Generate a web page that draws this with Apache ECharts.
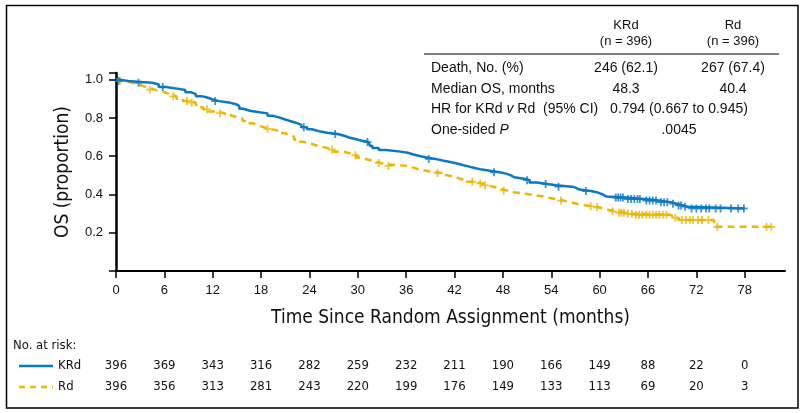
<!DOCTYPE html>
<html>
<head>
<meta charset="utf-8">
<script src="https://cdn.jsdelivr.net/npm/echarts@6/dist/echarts.min.js"></script>
<style>
  html, body { margin: 0; padding: 0; background: #fff; }
  #chart { width: 803px; height: 413px; }
</style>
</head>
<body>
<div id="chart"></div>
<script>
// Kaplan-Meier steps: [months, proportion]
const krdSteps = [
  [0, 1.0], [0.5, 0.993], [1.5, 0.987], [3.5, 0.984], [4.5, 0.975], [5.3, 0.962],
  [6.2, 0.952], [7.8, 0.946], [8.6, 0.935], [9.3, 0.925], [9.9, 0.914], [10.6, 0.907],
  [11.3, 0.897], [12.0, 0.888], [12.8, 0.879], [14.2, 0.872], [14.9, 0.862], [15.3, 0.848],
  [15.8, 0.838], [16.6, 0.830], [17.8, 0.824], [18.8, 0.812], [19.4, 0.803], [20.2, 0.793],
  [20.9, 0.784], [21.6, 0.774], [22.4, 0.764], [23.0, 0.752], [23.7, 0.741], [24.3, 0.731],
  [25.2, 0.723], [26.2, 0.716], [27.5, 0.708], [28.2, 0.698], [28.9, 0.689], [29.8, 0.681],
  [30.5, 0.674], [31.3, 0.667], [31.5, 0.655], [31.8, 0.643], [32.6, 0.632], [33.5, 0.624],
  [35.3, 0.618], [36.2, 0.609], [36.9, 0.600], [37.8, 0.593], [38.6, 0.586], [39.6, 0.578],
  [40.5, 0.571], [41.3, 0.563], [42.2, 0.555], [42.9, 0.547], [43.7, 0.538], [44.5, 0.530],
  [45.4, 0.522], [46.8, 0.516], [47.6, 0.509], [48.4, 0.500], [49.0, 0.490], [49.4, 0.481],
  [50.8, 0.475], [51.3, 0.463], [52.2, 0.455], [53.5, 0.448], [54.6, 0.441], [56.6, 0.436],
  [57.0, 0.426], [57.5, 0.418], [58.9, 0.410], [59.8, 0.400], [60.4, 0.390], [60.8, 0.384],
  [63.2, 0.376], [65.5, 0.368], [67.3, 0.360], [68.8, 0.352], [69.5, 0.343], [70.3, 0.336],
  [70.9, 0.327], [78.0, 0.327]
];
const rdSteps = [
  [0, 1.0], [0.4, 0.995], [1.0, 0.988], [1.6, 0.978], [2.5, 0.968], [3.3, 0.958],
  [4.0, 0.948], [4.8, 0.940], [5.4, 0.932], [6.2, 0.922], [6.8, 0.913], [7.5, 0.900],
  [8.3, 0.889], [9.2, 0.880], [9.9, 0.868], [10.4, 0.856], [10.8, 0.845], [11.5, 0.834],
  [12.4, 0.825], [13.5, 0.814], [14.2, 0.804], [15.0, 0.796], [15.7, 0.784], [16.3, 0.772],
  [17.0, 0.762], [17.5, 0.752], [18.3, 0.743], [19.0, 0.735], [20.0, 0.722], [20.8, 0.712],
  [21.5, 0.702], [22.1, 0.686], [22.7, 0.675], [23.3, 0.665], [24.2, 0.655], [25.0, 0.645],
  [26.0, 0.635], [27.0, 0.623], [28.3, 0.615], [29.0, 0.605], [29.8, 0.593], [30.5, 0.583],
  [31.2, 0.574], [32.0, 0.565], [32.8, 0.557], [33.6, 0.549], [36.3, 0.540], [36.9, 0.530],
  [37.7, 0.520], [39.0, 0.512], [40.4, 0.500], [41.1, 0.494], [41.8, 0.485], [42.5, 0.477],
  [43.1, 0.466], [44.4, 0.458], [45.4, 0.448], [46.1, 0.438], [47.0, 0.430], [47.7, 0.421],
  [48.5, 0.412], [49.3, 0.404], [50.8, 0.397], [51.8, 0.390], [53.0, 0.382], [53.8, 0.375],
  [54.6, 0.368], [55.5, 0.361], [56.3, 0.354], [56.9, 0.346], [57.8, 0.339], [58.9, 0.333],
  [59.8, 0.326], [60.6, 0.319], [61.2, 0.312], [62.2, 0.305], [63.2, 0.299], [64.2, 0.294],
  [68.6, 0.289], [69.0, 0.278], [69.8, 0.266], [74.2, 0.231], [81.6, 0.231]
];

// censoring ticks
const krdCensored = [
  [0.3, 0.993], [2.8, 0.984], [5.8, 0.962], [12.3, 0.888], [23.3, 0.752], [27.2, 0.716],
  [31.2, 0.674], [38.8, 0.586], [46.9, 0.516], [51.0, 0.475], [53.3, 0.455], [54.9, 0.441],
  [58.3, 0.418], [62.0, 0.384], [62.3, 0.384], [62.6, 0.384], [62.9, 0.384], [63.5, 0.376],
  [63.9, 0.376], [64.3, 0.376], [64.7, 0.376], [65.0, 0.376], [65.8, 0.368], [66.2, 0.368],
  [66.6, 0.368], [67.0, 0.368], [67.6, 0.360], [68.0, 0.360], [68.4, 0.360], [69.1, 0.352],
  [69.8, 0.343], [70.1, 0.343], [70.6, 0.336], [71.4, 0.327], [72.0, 0.327], [72.6, 0.327],
  [73.2, 0.327], [73.6, 0.327], [74.4, 0.327], [75.0, 0.327], [76.3, 0.327], [77.2, 0.327],
  [77.9, 0.327]
];
const rdCensored = [
  [0.5, 0.995], [4.2, 0.948], [7.1, 0.913], [8.8, 0.889], [9.4, 0.880], [11.3, 0.845],
  [12.9, 0.825], [18.8, 0.743], [26.8, 0.635], [29.7, 0.605], [32.6, 0.565], [33.8, 0.549],
  [39.9, 0.512], [44.2, 0.466], [45.2, 0.458], [45.8, 0.448], [48.1, 0.421], [55.2, 0.368],
  [58.9, 0.339], [59.7, 0.333], [61.6, 0.312], [62.4, 0.305], [62.7, 0.305], [63.0, 0.305],
  [63.5, 0.299], [64.0, 0.299], [64.5, 0.294], [64.9, 0.294], [65.3, 0.294], [65.8, 0.294],
  [66.2, 0.294], [66.6, 0.294], [67.0, 0.294], [67.4, 0.294], [67.9, 0.294], [68.3, 0.294],
  [69.4, 0.278], [70.2, 0.266], [70.7, 0.266], [71.2, 0.266], [71.6, 0.266], [72.2, 0.266],
  [72.7, 0.266], [73.5, 0.266], [74.6, 0.231], [80.7, 0.231], [81.3, 0.231]
];

// number at risk table
const riskMonths = [0, 6, 12, 18, 24, 30, 36, 42, 48, 54, 60, 66, 72, 78];
const krdAtRisk = [396, 369, 343, 316, 282, 259, 232, 211, 190, 166, 149, 88, 22, 0];
const rdAtRisk = [396, 356, 313, 281, 243, 220, 199, 176, 149, 133, 113, 69, 20, 3];

// summary table (top right)
const tableHead = ['KRd\n(n = 396)', 'Rd\n(n = 396)'];
const tableRows = [
  ['Death, No. (%)', '246 (62.1)', '267 (67.4)'],
  ['Median OS, months', '48.3', '40.4'],
  ['HR for KRd v Rd  (95% CI)', '0.794 (0.667 to 0.945)'],
  ['One-sided P', '.0045']
];

const BLUE = '#0A79C4';
const GOLD = '#EBB700';
const FONT = "'Liberation Sans', Arial, sans-serif";
const NARROW = "'Liberation Sans Narrow', 'DejaVu Sans Condensed', sans-serif";
const PLUS = 'path://M-0.9,-4H0.9V-0.9H4V0.9H0.9V4H-0.9V0.9H-4V-0.9H-0.9Z';

const chart = echarts.init(document.getElementById('chart'), null, { renderer: 'canvas' });

chart.setOption({
  animation: false,
  backgroundColor: '#fff',
  grid: { left: 116, right: 18, top: 73, bottom: 142 },
  xAxis: {
    type: 'value', min: 0, max: 83, interval: 6,
    name: 'Time Since Random Assignment (months)',
    nameLocation: 'middle', nameGap: 38,
    nameTextStyle: { fontFamily: NARROW, fontSize: 19, color: '#111' },
    axisLine: { onZero: false, lineStyle: { color: '#000', width: 2 } },
    axisTick: { length: 7, lineStyle: { color: '#000', width: 1.5 } },
    axisLabel: {
      color: '#111', fontFamily: FONT, fontSize: 13, margin: 13, showMaxLabel: false,
      formatter: v => (v > 80 ? '' : String(v))
    },
    splitLine: { show: false }
  },
  yAxis: {
    type: 'value', min: 0, max: 1.035, interval: 0.2,
    name: 'OS (proportion)',
    nameLocation: 'middle', nameGap: 43, nameRotate: 90,
    nameTextStyle: { fontFamily: NARROW, fontSize: 19, color: '#111' },
    axisLine: { show: true, lineStyle: { color: '#000', width: 2.5 } },
    axisTick: { show: true, length: 7, lineStyle: { color: '#000', width: 1.5 } },
    axisLabel: {
      color: '#111', fontFamily: FONT, fontSize: 13, margin: 13,
      formatter: v => (v === 0 || v > 1.01) ? '' : v.toFixed(1)
    },
    splitLine: { show: false }
  },
  series: [
    {
      name: 'Rd', type: 'line', step: 'end', data: rdSteps, symbol: 'none',
      lineStyle: { color: GOLD, width: 2.5, type: [7, 5] }, z: 2
    },
    {
      name: 'Rd censored', type: 'scatter', data: rdCensored, symbol: PLUS,
      symbolSize: 8, itemStyle: { color: GOLD }, z: 2
    },
    {
      name: 'KRd', type: 'line', step: 'end', data: krdSteps, symbol: 'none',
      lineStyle: { color: BLUE, width: 2.5 }, z: 3
    },
    {
      name: 'KRd censored', type: 'scatter', data: krdCensored, symbol: PLUS,
      symbolSize: 8, itemStyle: { color: BLUE }, z: 3
    }
  ]
});

// overlay: frame, summary table, at-risk table
function drawOverlay() {
  const g = [];
  g.push({
    type: 'rect', shape: { x: 6.5, y: 5.5, width: 791.5, height: 402.5 },
    style: { fill: 'none', stroke: '#000', lineWidth: 1.5 }, silent: true
  });

  // summary table
  const colKRd = 626, colRd = 733, colBoth = 679, labelX = 431;
  tableHead.forEach((t, i) => {
    g.push({
      type: 'text', x: i === 0 ? colKRd : colRd, y: 17,
      style: { text: t, fontFamily: FONT, fontSize: 13, fill: '#111', align: 'center', lineHeight: 16 }
    });
  });
  g.push({
    type: 'line', shape: { x1: 424, y1: 54, x2: 779, y2: 54 },
    style: { stroke: '#000', lineWidth: 1.2 }
  });
  const rowY = [68, 89, 109, 130];
  const italic = { i: { fontStyle: 'italic', fontFamily: FONT, fontSize: 14, fill: '#111' } };
  tableRows.forEach((row, r) => {
    let label = row[0];
    if (label.startsWith('HR for')) label = 'HR for KRd {i|v} Rd  (95% CI)';
    if (label === 'One-sided P') label = 'One-sided {i|P}';
    g.push({
      type: 'text', x: labelX, y: rowY[r],
      style: { text: label, rich: italic, fontFamily: FONT, fontSize: 14, fill: '#111', verticalAlign: 'middle' }
    });
    const cols = row.length === 3 ? [colKRd, colRd] : [colBoth];
    cols.forEach((cx, k) => g.push({
      type: 'text', x: cx, y: rowY[r],
      style: { text: row[k + 1], fontFamily: FONT, fontSize: 14, fill: '#111', align: 'center', verticalAlign: 'middle' }
    }));
  });

  // number at risk
  g.push({
    type: 'text', x: 13, y: 346,
    style: { text: 'No. at risk:', fontFamily: NARROW, fontSize: 13, fill: '#111', verticalAlign: 'middle' }
  });
  const rows = [
    { name: 'KRd', vals: krdAtRisk, y: 366, color: BLUE, dash: null },
    { name: 'Rd', vals: rdAtRisk, y: 387, color: GOLD, dash: [6, 5] }
  ];
  rows.forEach(r => {
    g.push({
      type: 'line', shape: { x1: 19, y1: r.y, x2: 53, y2: r.y },
      style: { stroke: r.color, lineWidth: 2.5, lineDash: r.dash }
    });
    g.push({
      type: 'text', x: 58, y: r.y,
      style: { text: r.name, fontFamily: NARROW, fontSize: 13, fill: '#111', verticalAlign: 'middle' }
    });
    r.vals.forEach((v, i) => {
      const px = chart.convertToPixel({ xAxisIndex: 0 }, riskMonths[i]);
      g.push({
        type: 'text', x: px, y: r.y,
        style: { text: String(v), fontFamily: NARROW, fontSize: 13, fill: '#111', align: 'center', verticalAlign: 'middle' }
      });
    });
  });

  chart.setOption({ graphic: g });
}
drawOverlay();
</script>
</body>
</html>
